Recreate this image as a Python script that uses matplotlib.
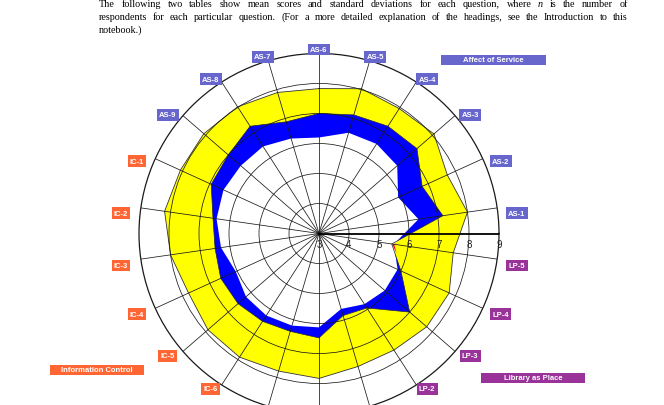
import numpy as np
import matplotlib
matplotlib.use('Agg')
import matplotlib.pyplot as plt
from matplotlib.patches import Rectangle

# LibQUAL style radar: minimum / perceived / desired mean scores per question
questions = ['AS-1', 'AS-2', 'AS-3', 'AS-4', 'AS-5', 'AS-6', 'AS-7', 'AS-8', 'AS-9',
             'IC-1', 'IC-2', 'IC-3', 'IC-4', 'IC-5', 'IC-6', 'IC-7', 'IC-8',
             'LP-1', 'LP-2', 'LP-3', 'LP-4', 'LP-5']
minimum = [6.35, 5.90, 6.45, 6.55, 6.50, 6.20, 6.30, 6.45, 6.45,
           6.50, 6.45, 6.30, 6.05, 6.22, 6.25, 6.20, 6.13,
           5.62, 5.80, 5.90, 5.88, 5.52]
perceived = [7.17, 6.78, 7.32, 7.25, 7.12, 7.00, 6.88, 7.25, 7.00,
             6.95, 6.57, 6.50, 6.60, 6.57, 6.48, 6.40, 6.48,
             5.85, 5.95, 7.00, 6.00, 5.45]
desired = [8.00, 7.70, 8.07, 7.95, 8.03, 7.83, 7.90, 8.02, 8.08,
           8.08, 8.20, 8.00, 7.78, 7.90, 7.90, 7.78, 7.83,
           7.62, 7.62, 7.75, 7.77, 7.52]
scale_ticks = [3, 4, 5, 6, 7, 8, 9]
group_names = {'AS': 'Affect of Service', 'IC': 'Information Control', 'LP': 'Library as Place'}
group_colors = {'AS': '#6666cc', 'IC': '#ff6633', 'LP': '#993399'}

intro_lines = [
    'The following two tables show mean scores and standard deviations for each question, where n is the number of',
    'respondents for each particular question. (For a more detailed explanation of the headings, see the Introduction to this',
    'notebook.)',
]

W, H = 664, 406
fig = plt.figure(figsize=(W / 100, H / 100), dpi=100)

# chart centre and outer radius in pixels (from top-left)
cx, cy, R = 319, 234.5, 180
ax = fig.add_axes([(cx - R) / W, (H - cy - R) / H, 2 * R / W, 2 * R / H], projection='polar')

n = len(questions)
theta = np.deg2rad(90 + (np.arange(n) - 5) * 360 / n)

# close the ring starting at AS-6 so the LP-5 crossing sits inside the arrays
idx = np.r_[np.arange(5, n), np.arange(0, 6)]
theta_c = theta[idx] + np.where(np.arange(len(idx)) >= n - 5, 2 * np.pi, 0)
min_c = np.asarray(minimum)[idx]
perc_c = np.asarray(perceived)[idx]
des_c = np.asarray(desired)[idx]

# layers: desired (yellow), perceived (blue), minimum (white), perceived below minimum (red)
ax.fill(theta_c, des_c, color='#ffff00', lw=0)
ax.fill(theta_c, perc_c, color='#0000ff', lw=0)
ax.fill(theta_c, min_c, color='white', lw=0)
ax.fill_between(theta_c, min_c, perc_c, where=perc_c < min_c, interpolate=True, color='#ff0000', lw=0)
ax.plot(theta_c, des_c, color='#333333', lw=0.6)
ax.plot(theta_c, perc_c, color='#222244', lw=0.5)

ax.set_rlim(3, 9)
ax.set_thetagrids(np.rad2deg(theta), labels=[''] * n)
ax.set_rgrids(scale_ticks[1:-1], labels=[''] * (len(scale_ticks) - 2))
ax.tick_params(length=0)
ax.grid(True, color='#1a1a1a', lw=0.55)
ax.set_axisbelow(False)
ax.spines['polar'].set_linewidth(0.9)
ax.spines['polar'].set_color('#1a1a1a')
ax.plot([0, 0], [3, 9], color='black', lw=1.3, zorder=4)

px = 72 / 100  # pixels -> points
for v in scale_ticks:
    ax.annotate(str(v), xy=(0, v), xytext=(0, -10.5 * px), textcoords='offset points',
                ha='center', va='center', fontsize=7, color='#222222', family='Liberation Sans')

for q, t in zip(questions, theta):
    c, s = np.cos(t), np.sin(t)
    ox = 20 * c
    oy = 4 * s - 6 * c ** 4
    # skip labels that fall below the bottom edge of the page crop
    ypix = ax.transData.transform((t, 9))[1] + oy
    if ypix < 0:
        continue
    ax.annotate(q, xy=(t, 9), xytext=(ox * px, oy * px), textcoords='offset points',
                ha='center', va='center', fontsize=5.5, fontweight='bold', color='white',
                family='Liberation Sans', annotation_clip=False,
                bbox=dict(boxstyle='square,pad=0.3', fc=group_colors[q[:2]], ec='none'))

# group legend boxes (x0, x1, y0, y1 in pixels from top-left)
legend_boxes = {'AS': (441, 546, 56, 66), 'IC': (50, 144, 366, 376), 'LP': (481, 585, 374, 384)}
for key, (x0, x1, y0, y1) in legend_boxes.items():
    fig.add_artist(Rectangle((x0 / W, 1 - y1 / H), (x1 - x0) / W, (y1 - y0) / H,
                             transform=fig.transFigure, fc=group_colors[key], ec='none'))
    fig.text((x0 + x1) / 2 / W, 1 - (y0 + y1) / 2 / H, group_names[key], ha='center', va='center',
             fontsize=5.5, fontweight='bold', color='white', family='Liberation Sans')

# justified intro paragraph
renderer = fig.canvas.get_renderer()
left, right = 99, 628
baselines = [7, 20, 33]
for k, line in enumerate(intro_lines):
    words = line.split()
    texts = [fig.text(0, 1 - baselines[k] / H, w, fontsize=7.3, family='Liberation Serif',
                      style='italic' if w == 'n' else 'normal', va='baseline') for w in words]
    widths = [tx.get_window_extent(renderer).width for tx in texts]
    if k < len(intro_lines) - 1:
        gap = (right - left - sum(widths)) / (len(words) - 1)
    else:
        gap = 2.5
    x = left
    for tx, w in zip(texts, widths):
        tx.set_x(x / W)
        x += w + gap

fig.savefig('out.png', dpi=100)
